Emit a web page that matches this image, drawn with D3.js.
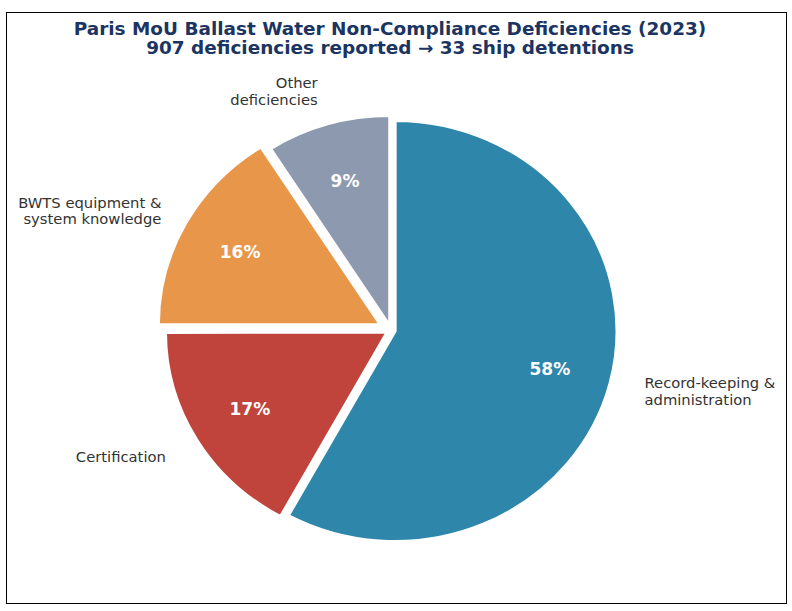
<!DOCTYPE html>
<html>
<head>
<meta charset="utf-8">
<script src="https://cdn.jsdelivr.net/npm/d3@7"></script>
<style>
  body { margin: 0; background: #fff; }
  text { font-family: "DejaVu Sans", sans-serif; }
</style>
</head>
<body>
<script>
const width = 792;
const height = 611;

const categories = ["Record-keeping &\nadministration", "Certification", "BWTS equipment &\nsystem knowledge", "Other\ndeficiencies"];
const counts = [526, 154, 145, 82];
const colors = ["#2E86AB", "#C0443B", "#E8964A", "#8D99AE"];
const explode = [0.019, 0.019, 0.055, 0.019];

const titleLines = ["Paris MoU Ballast Water Non-Compliance Deficiencies (2023)",
                    "907 deficiencies reported \u2192 33 ship detentions"];

const cx = 391, cy = 330;
const radius = 210.6;
const sx = 1.054;          // picture is slightly wider than tall
const pctDistance = 0.72;
const labelDistance = 1.16;
const labelShift = 0.019;  // outer labels all sit off the same small offset

const svg = d3.select("body").append("svg")
    .attr("width", width)
    .attr("height", height);

svg.append("rect")
    .attr("x", 6.5).attr("y", 12.5)
    .attr("width", 780).attr("height", 591)
    .attr("fill", "white")
    .attr("stroke", "black")
    .attr("stroke-width", 1);

svg.append("g")
    .attr("transform", `translate(390,0) scale(${sx},1)`)
    .append("text")
    .attr("text-anchor", "middle")
    .attr("fill", "#1B3461")
    .attr("font-weight", "bold")
    .attr("font-size", 17.5)
    .selectAll("tspan")
    .data(titleLines)
    .enter().append("tspan")
    .attr("x", 0)
    .attr("y", (d, i) => 35 + i * 19.5)
    .text(d => d);

const total = d3.sum(counts);
const pie = d3.pie().sort(null).value(d => d)(counts);
const arc = d3.arc().innerRadius(0).outerRadius(radius);

// point at distance dist along the wedge's mid angle, after an offset e
function place(d, e, dist) {
    const a = (d.startAngle + d.endAngle) / 2;
    return [
        cx + sx * (e + dist) * Math.sin(a),
        cy - (e + dist) * Math.cos(a)
    ];
}

const wedges = svg.append("g")
    .attr("transform", `translate(${cx},${cy}) scale(${sx},1)`);

wedges.selectAll("path")
    .data(pie)
    .enter().append("path")
    .attr("d", arc)
    .attr("transform", (d, i) => {
        const a = (d.startAngle + d.endAngle) / 2;
        const e = explode[i] * radius;
        return `translate(${e * Math.sin(a)},${-e * Math.cos(a)})`;
    })
    .attr("fill", (d, i) => colors[i])
    .attr("stroke", "white")
    .attr("stroke-width", 3)
    .attr("stroke-linejoin", "round");

// percentages
svg.append("g").selectAll("text")
    .data(pie)
    .enter().append("text")
    .attr("x", (d, i) => place(d, explode[i] * radius, pctDistance * radius)[0])
    .attr("y", (d, i) => place(d, explode[i] * radius, pctDistance * radius)[1])
    .attr("dy", "0.36em")
    .attr("text-anchor", "middle")
    .attr("fill", "white")
    .attr("font-weight", "bold")
    .attr("font-size", 17)
    .text(d => Math.round(d.value / total * 100) + "%");

// category labels
const labels = svg.append("g").selectAll("g")
    .data(pie)
    .enter().append("g")
    .attr("transform", d => {
        const p = place(d, labelShift * radius, labelDistance * radius);
        return `translate(${p[0]},${p[1]}) scale(${sx},1)`;
    })
    .append("text")
    .attr("fill", "#333333")
    .attr("font-size", 14)
    .attr("text-anchor", d => Math.sin((d.startAngle + d.endAngle) / 2) > 0 ? "start" : "end");

labels.each(function (d, i) {
    const lines = categories[i].split("\n");
    const lh = 16.5;
    d3.select(this).selectAll("tspan")
        .data(lines)
        .enter().append("tspan")
        .attr("x", 0)
        .attr("y", (t, j) => (j - (lines.length - 1) / 2) * lh)
        .attr("dy", "0.36em")
        .text(t => t);
});
</script>
</body>
</html>
